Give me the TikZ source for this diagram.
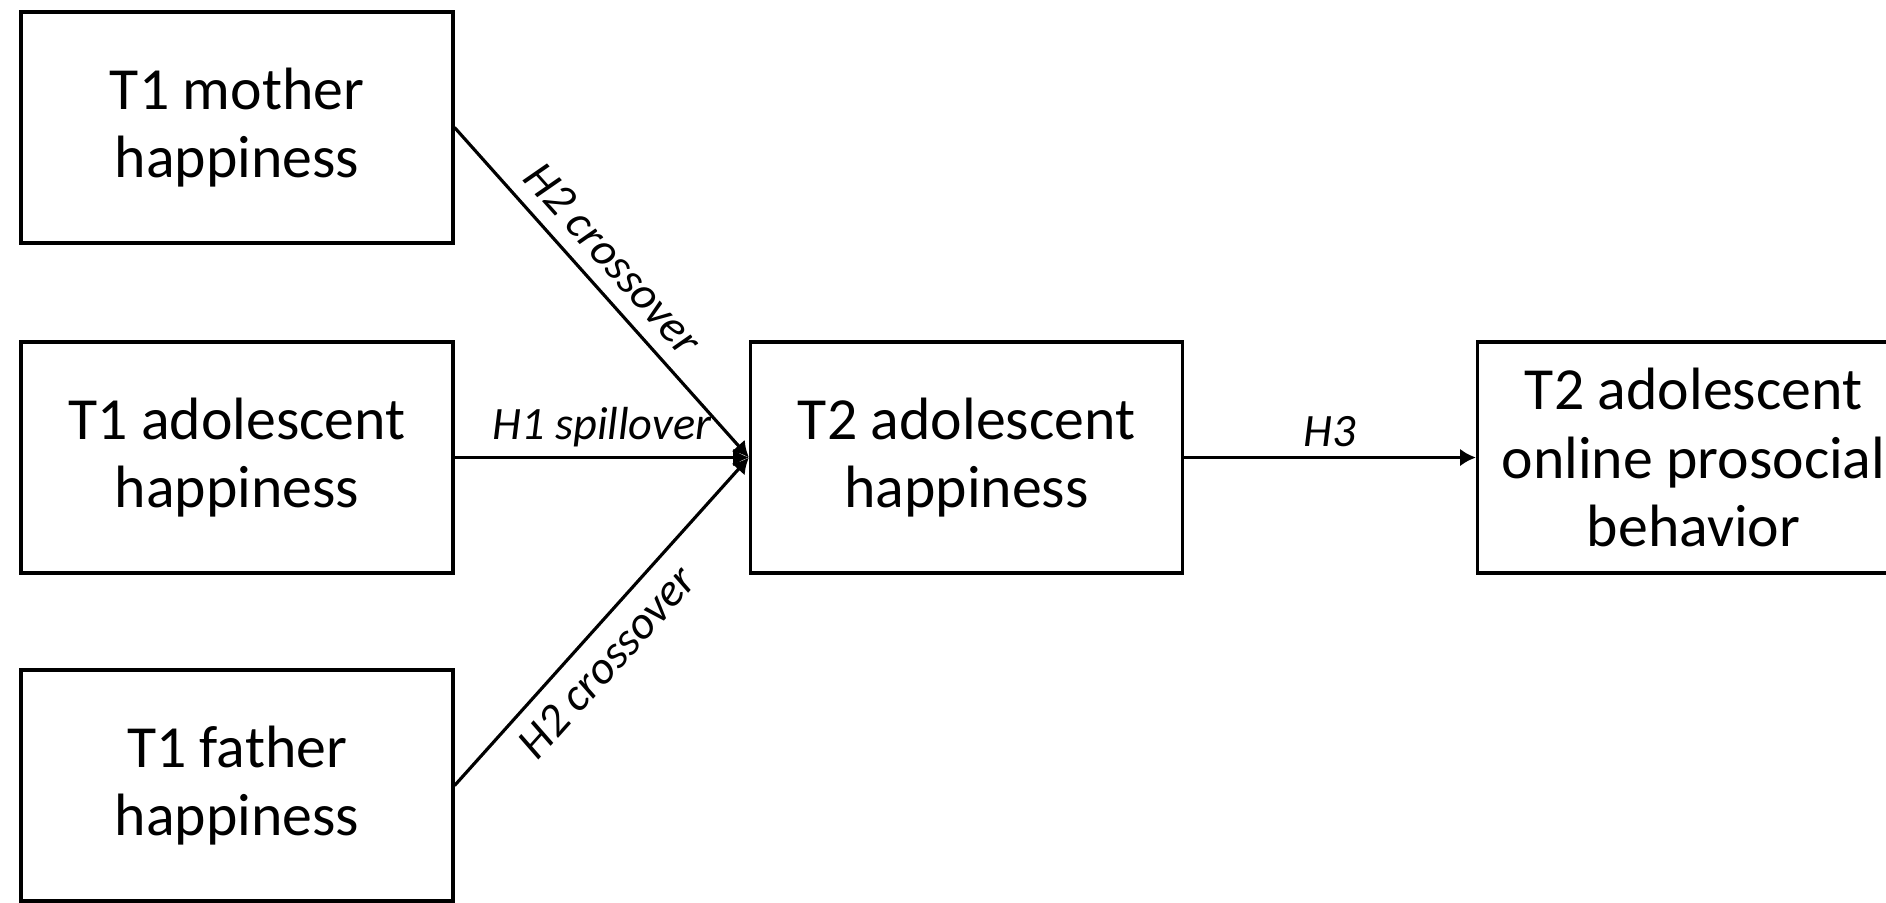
\documentclass[tikz,border=0pt]{standalone}
\usepackage{fontspec}
\setmainfont{Carlito}
\usetikzlibrary{arrows.meta}

\begin{document}
\begin{tikzpicture}[
    box/.style={draw, line width=0.9pt, minimum width=4.32cm, minimum height=2.31cm,
        inner sep=0pt, align=center, font=\fontsize{17}{19.6}\selectfont},
    link/.style={line width=0.9pt, -{Latex[length=4.5pt,width=5pt]}},
    lbl/.style={font=\fontsize{13.2}{15}\selectfont\itshape, inner sep=2.5pt}
]

    \useasboundingbox (0,0) rectangle (18.86,-9.02);

    % left column: T1
    \node[box] (mother) at (2.37,-1.275) {T1 mother\\happiness};
    \node[box] (adol)   at (2.37,-4.575) {T1 adolescent\\happiness};
    \node[box] (father) at (2.37,-7.855) {T1 father\\happiness};

    % T2
    \node[box] (adolT2)    at (9.665,-4.575) {T2 adolescent\\happiness};
    \node[box] (prosocial) at (16.935,-4.575) {T2 adolescent\\online prosocial\\behavior};

    \draw[link] (mother.east) -- (adolT2.west)
        node[lbl, pos=0.46, sloped, above, inner sep=4pt] {H2 crossover};
    \draw[link] (adol.east) -- (adolT2.west)
        node[lbl, midway, above] {H1 spillover};
    \draw[link] (father.east) -- (adolT2.west)
        node[lbl, pos=0.44, sloped, below, inner sep=4pt] {H2 crossover};

    \draw[link] (adolT2.east) -- (prosocial.west)
        node[lbl, midway, above] {H3};

\end{tikzpicture}
\end{document}
